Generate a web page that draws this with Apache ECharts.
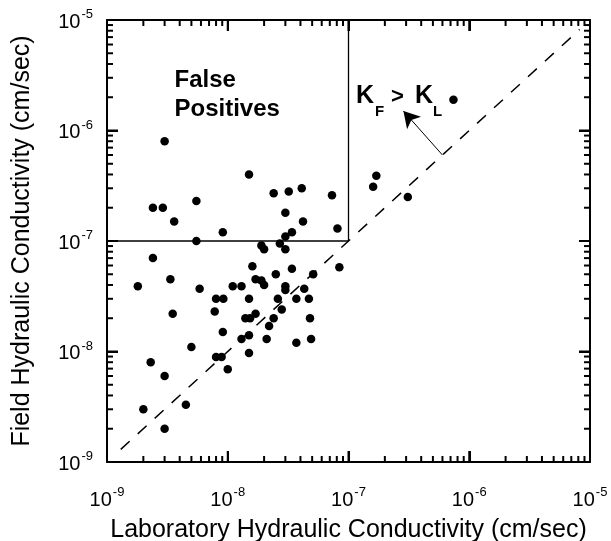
<!DOCTYPE html>
<html>
<head>
<meta charset="utf-8">
<title>Field vs laboratory hydraulic conductivity</title>
<style>
  html, body { margin: 0; padding: 0; background: #fff; }
  #main { width: 611px; height: 541px; }
</style>
</head>
<body>
<div id="main"></div>
<script src="https://cdn.jsdelivr.net/npm/echarts@6/dist/echarts.min.js"></script>
<script>
// laboratory K (x) and field K (y), cm/sec
var labK = [
  3.0e-9, 1.5e-8, 2.4e-9, 2.9e-9, 3.6e-9, 5.5e-9, 9.1e-9, 5.5e-9, 2.4e-8, 3.2e-8,
  4.1e-8, 7.3e-8, 3.0e-8, 4.2e-8, 8.1e-8, 3.4e-8, 3.0e-8, 2.7e-8, 1.9e-8, 2.0e-8,
  3.0e-8, 2.4e-9, 1.6e-8, 3.4e-8, 8.4e-8, 3.35e-9, 1.8e-9, 5.85e-9, 1.1e-8, 1.3e-8,
  1.7e-8, 1.9e-8, 2.0e-8, 2.5e-8, 3.0e-8, 3.0e-8, 4.3e-8, 5.1e-8, 8.0e-9, 9.2e-9,
  1.5e-8, 2.6e-8, 3.7e-8, 4.7e-8, 3.5e-9, 7.8e-9, 1.4e-8, 1.53e-8, 1.7e-8, 2.4e-8,
  2.8e-8, 2.2e-8, 4.8e-8, 9.1e-9, 1.3e-8, 1.5e-8, 2.1e-8, 3.7e-8, 4.9e-8, 1.5e-8,
  5.0e-9, 8.0e-9, 8.9e-9, 1.0e-8, 2.3e-9, 3.0e-9, 4.5e-9, 2.0e-9, 3.0e-9, 1.6e-7,
  1.7e-7, 3.1e-7, 7.4e-7
];
var fieldK = [
  8.0e-7, 4.0e-7, 2.0e-7, 2.0e-7, 1.5e-7, 2.3e-7, 1.2e-7, 1.0e-7, 2.7e-7, 2.8e-7,
  3.0e-7, 2.6e-7, 1.8e-7, 1.5e-7, 1.3e-7, 1.2e-7, 1.1e-7, 9.5e-8, 9.1e-8, 8.4e-8,
  8.4e-8, 7.0e-8, 5.9e-8, 5.6e-8, 5.8e-8, 4.5e-8, 3.9e-8, 3.7e-8, 3.9e-8, 3.9e-8,
  4.5e-8, 4.4e-8, 4.0e-8, 5.0e-8, 3.9e-8, 3.6e-8, 3.7e-8, 5.0e-8, 3.0e-8, 3.0e-8,
  3.0e-8, 3.0e-8, 3.0e-8, 3.0e-8, 2.2e-8, 2.3e-8, 2.0e-8, 2.0e-8, 2.2e-8, 2.0e-8,
  2.4e-8, 1.7e-8, 2.0e-8, 1.5e-8, 1.3e-8, 1.4e-8, 1.3e-8, 1.2e-8, 1.3e-8, 9.7e-9,
  1.1e-8, 8.9e-9, 8.9e-9, 6.9e-9, 8.0e-9, 6.0e-9, 3.3e-9, 3.0e-9, 2.0e-9, 3.1e-7,
  3.9e-7, 2.5e-7, 1.9e-6
];

var axisMin = 1e-9, axisMax = 1e-5;
var boxLine = [[1e-9, 1e-7], [1e-7, 1e-7], [1e-7, 1e-5]];
var unityLine = [[1.3e-9, 1.3e-9], [8.2e-6, 8.2e-6]];
var arrowFrom = [6.0e-7, 6.0e-7], arrowTo = [2.85e-7, 1.5e-6];

var ff = 'Liberation Sans, Arial, Helvetica, sans-serif';

// tick marks on all four sides: [value, tick length]
var tickVals = [];
for (var ex = -9; ex <= -5; ex++) {
  tickVals.push([Math.pow(10, ex), 11]);
  if (ex < -5) {
    for (var m = 2; m <= 9; m++) tickVals.push([m * Math.pow(10, ex), 6]);
  }
}

var points = labK.map(function (x, i) { return [x, fieldK[i]]; });

function powLabel(v) {
  return '{b|10}{s|' + Math.round(Math.log10(v)) + '}';
}
var labelRich = {
  b: { fontSize: 20, fontFamily: ff, color: '#000', lineHeight: 24, verticalAlign: 'bottom' },
  s: { fontSize: 13, fontFamily: ff, color: '#000', lineHeight: 24, verticalAlign: 'top', padding: [0, 0, 0, 1] }
};

function logAxis(pos, showLabel, name, gap) {
  return {
    type: 'log', min: axisMin, max: axisMax, position: pos,
    name: name, nameLocation: 'middle', nameGap: gap,
    nameTextStyle: { fontSize: 25, fontFamily: ff, color: '#000' },
    axisLine: { show: true, onZero: false, lineStyle: { color: '#000', width: 2 } },
    axisTick: { show: true, inside: true, length: 11, lineStyle: { color: '#000', width: 2 } },
    splitLine: { show: false },
    axisLabel: { show: showLabel, formatter: powLabel, rich: labelRich, margin: 14 }
  };
}

var xBottom = logAxis('bottom', true, 'Laboratory Hydraulic Conductivity (cm/sec)', 56);
xBottom.axisLabel.margin = 24;
var yLeft = logAxis('left', true, 'Field Hydraulic Conductivity (cm/sec)', 72);

function seg(x1, y1, x2, y2) {
  return { type: 'line', shape: { x1: x1, y1: y1, x2: x2, y2: y2 }, style: { stroke: '#000', lineWidth: 2 } };
}

var chart = echarts.init(document.getElementById('main'));

chart.setOption({
  animation: false,
  grid: { left: 107, top: 20, width: 483, height: 442, outerBoundsMode: 'none' },
  xAxis: [xBottom, logAxis('top', false, '', 0)],
  yAxis: [yLeft, logAxis('right', false, '', 0)],
  series: [
    {
      type: 'custom', data: tickVals, clip: false, z: 10,
      renderItem: function (params, api) {
        var v = api.value(0), len = api.value(1);
        var b = api.coord([v, axisMin]), t = api.coord([v, axisMax]);
        var l = api.coord([axisMin, v]), r = api.coord([axisMax, v]);
        return { type: 'group', children: [
          seg(b[0], b[1], b[0], b[1] - len),
          seg(t[0], t[1], t[0], t[1] + len),
          seg(l[0], l[1], l[0] + len, l[1]),
          seg(r[0], r[1], r[0] - len, r[1])
        ] };
      }
    },
    {
      type: 'line', data: boxLine, symbol: 'none', silent: true,
      lineStyle: { color: '#000', width: 1.3 }
    },
    {
      type: 'line', data: unityLine, symbol: 'none', silent: true,
      lineStyle: { color: '#000', width: 1.5, type: [12, 11] },
      markLine: {
        silent: true, symbol: ['none', 'arrow'], symbolSize: [14, 16],
        label: { show: false },
        lineStyle: { color: '#000', width: 1, type: 'solid' },
        data: [[{ coord: arrowFrom }, { coord: arrowTo }]]
      }
    },
    {
      type: 'scatter', data: points, symbol: 'circle', symbolSize: 8.5,
      itemStyle: { color: '#000', opacity: 1 }
    }
  ],
  graphic: [
    {
      type: 'text', left: 174.5, top: 66,
      style: {
        text: 'False\nPositives', x: 60, fill: '#000', align: 'center',
        font: 'bold 24px ' + ff, lineHeight: 29
      }
    },
    { type: 'text', x: 356, y: 96, style: { text: 'K', fill: '#000', font: 'bold 25px ' + ff, verticalAlign: 'middle' } },
    { type: 'text', x: 375, y: 112, style: { text: 'F', fill: '#000', font: 'bold 15px ' + ff, verticalAlign: 'middle' } },
    { type: 'text', x: 391, y: 97, style: { text: '>', fill: '#000', font: 'bold 22px ' + ff, verticalAlign: 'middle' } },
    { type: 'text', x: 415, y: 96, style: { text: 'K', fill: '#000', font: 'bold 25px ' + ff, verticalAlign: 'middle' } },
    { type: 'text', x: 433, y: 112, style: { text: 'L', fill: '#000', font: 'bold 15px ' + ff, verticalAlign: 'middle' } }
  ]
});
</script>
</body>
</html>
